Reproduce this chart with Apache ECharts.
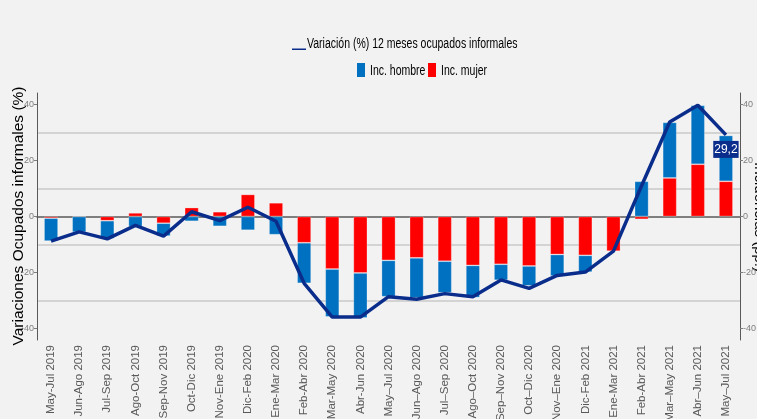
<!DOCTYPE html>
<html>
<head>
<meta charset="utf-8">
<script src="https://cdn.jsdelivr.net/npm/echarts@6/dist/echarts.min.js"></script>
<style>
  html, body { margin: 0; padding: 0; background: #f2f2f2; }
  #main { width: 757px; height: 419px; }
</style>
</head>
<body>
<div id="main"></div>
<script>
var periodos = [
  'May-Jul 2019', 'Jun-Ago 2019', 'Jul-Sep 2019', 'Ago-Oct 2019', 'Sep-Nov 2019',
  'Oct-Dic 2019', 'Nov-Ene 2019', 'Dic-Feb 2020', 'Ene-Mar 2020', 'Feb-Abr 2020',
  'Mar-May 2020', 'Abr-Jun 2020', 'May\u2013Jul 2020', 'Jun\u2013Ago 2020', 'Jul\u2013Sep 2020',
  'Ago\u2013Oct 2020', 'Sep\u2013Nov 2020', 'Oct\u2013Dic 2020', 'Nov\u2013Ene 2020', 'Dic-Feb 2021',
  'Ene-Mar 2021', 'Feb-Abr 2021', 'Mar\u2013May 2021', 'Abr\u2013Jun 2021', 'May\u2013Jul 2021'
];
var incHombre = [
  -8.2, -5.6, -6.4, -3.6, -4.6, -1.7, -3.5, -4.9, -6.5, -14.5,
  -17.1, -16.1, -13.0, -14.3, -11.3, -11.5, -5.7, -7.1, -7.7, -6.0,
  -0.3, 12.6, 19.9, 21.1, 16.4
];
var incMujer = [
  -0.6, 0.2, -1.5, 1.3, -2.4, 3.2, 1.7, 7.9, 4.9, -9.4,
  -18.8, -20.2, -15.7, -14.8, -16.0, -17.5, -17.1, -17.7, -13.6, -13.9,
  -12.4, -1.0, 13.8, 18.7, 12.6
];
var variacion = [
  -8.8, -5.5, -8.0, -3.2, -7.0, 1.7, -1.5, 3.3, -1.7, -23.9,
  -36.0, -36.0, -28.7, -29.6, -27.6, -28.7, -22.7, -25.7, -21.1, -19.9,
  -12.4, 11.0, 33.8, 39.8, 29.2
];
var ticksY = [-40, -20, 0, 20, 40];
var lineasGuia = [30, 10, -10, -30];

var nombreLinea = 'Variaci\u00f3n (%) 12 meses ocupados informales';
var fuente = '"Liberation Sans", Arial, sans-serif';
var azul = '#0070c0', rojo = '#ff0000', azulLinea = '#0a2d8c';

var chart = echarts.init(document.getElementById('main'));

var ejeY = function(pos) {
  return {
    type: 'value',
    position: pos,
    min: -44.2,
    max: 44.2,
    splitLine: { show: false },
    axisLine: { show: true, lineStyle: { color: '#595959', width: 1 } },
    axisTick: { show: true, length: 3, customValues: ticksY, lineStyle: { color: '#7f7f7f' } },
    axisLabel: {
      customValues: ticksY,
      color: '#7f7f7f',
      fontSize: 9,
      fontFamily: fuente,
      margin: 3
    }
  };
};

// leyenda dibujada a mano para poder estrecharla como en el original
var textoLeyenda = function(x, y, txt) {
  return {
    type: 'text', x: x, y: y, scaleX: 0.75,
    style: { text: txt, fontSize: 14, fontFamily: fuente, fill: '#000', verticalAlign: 'middle' }
  };
};

var option = {
  backgroundColor: '#f2f2f2',
  animation: false,
  textStyle: { fontFamily: fuente },
  grid: { left: 37, right: 17, top: 93, bottom: 79, outerBoundsMode: 'none' },
  xAxis: {
    type: 'category',
    data: periodos,
    axisLine: { lineStyle: { color: '#595959', width: 1.5 } },
    axisTick: { alignWithLabel: true, length: 4, lineStyle: { color: '#595959' } },
    axisLabel: {
      rotate: 90,
      interval: 0,
      color: '#595959',
      fontSize: 11.5,
      fontFamily: fuente,
      margin: 5
    }
  },
  yAxis: [ejeY('left'), ejeY('right')],
  graphic: [
    { type: 'rect', shape: { x: 292, y: 48.5, width: 14, height: 1.5 }, style: { fill: azulLinea } },
    textoLeyenda(307, 44, nombreLinea),
    { type: 'rect', shape: { x: 357, y: 63, width: 8, height: 14 }, style: { fill: azul } },
    textoLeyenda(370, 71, 'Inc. hombre'),
    { type: 'rect', shape: { x: 428, y: 63, width: 8, height: 14 }, style: { fill: rojo } },
    textoLeyenda(441, 71, 'Inc. mujer'),
    {
      type: 'text',
      x: 19,
      y: 216,
      rotation: Math.PI / 2,
      style: {
        text: 'Variaciones Ocupados informales (%)',
        fontSize: 15.5,
        fontFamily: fuente,
        fill: '#000',
        align: 'center',
        verticalAlign: 'middle'
      }
    },
    {
      type: 'text',
      x: 759,
      y: 217,
      rotation: -Math.PI / 2,
      style: {
        text: 'Incidencias (pp.)',
        fontSize: 15,
        fontFamily: fuente,
        fill: '#000',
        align: 'center',
        verticalAlign: 'middle'
      }
    }
  ],
  series: [
    {
      name: 'Inc. mujer',
      type: 'bar',
      stack: 'inc',
      barWidth: 14,
      z: 2,
      itemStyle: { color: rojo, borderColor: 'rgba(255,255,255,0.35)', borderWidth: 0.8 },
      data: incMujer,
      markLine: {
        z: 0,
        silent: true,
        symbol: 'none',
        label: { show: false },
        lineStyle: { color: '#c8c8c8', type: 'solid', width: 1.5 },
        data: lineasGuia.map(function(v) { return { yAxis: v }; })
      }
    },
    {
      name: 'Inc. hombre',
      type: 'bar',
      stack: 'inc',
      barWidth: 14,
      z: 2,
      itemStyle: { color: azul, borderColor: 'rgba(255,255,255,0.35)', borderWidth: 0.8 },
      data: incHombre
    },
    {
      name: nombreLinea,
      type: 'line',
      z: 5,
      symbol: 'circle',
      symbolSize: 0,
      showSymbol: true,
      lineStyle: { color: azulLinea, width: 3.5 },
      itemStyle: { color: azulLinea },
      data: variacion.map(function(v, i) {
        if (i === variacion.length - 1) {
          return {
            value: v,
            label: {
              show: true,
              position: 'bottom',
              distance: 6,
              formatter: function(p) { return String(p.value).replace('.', ','); },
              color: '#fff',
              fontSize: 12,
              fontFamily: fuente,
              backgroundColor: azulLinea,
              padding: [3, 1, 2, 1]
            }
          };
        }
        return v;
      })
    }
  ]
};

chart.setOption(option, true);
</script>
</body>
</html>
